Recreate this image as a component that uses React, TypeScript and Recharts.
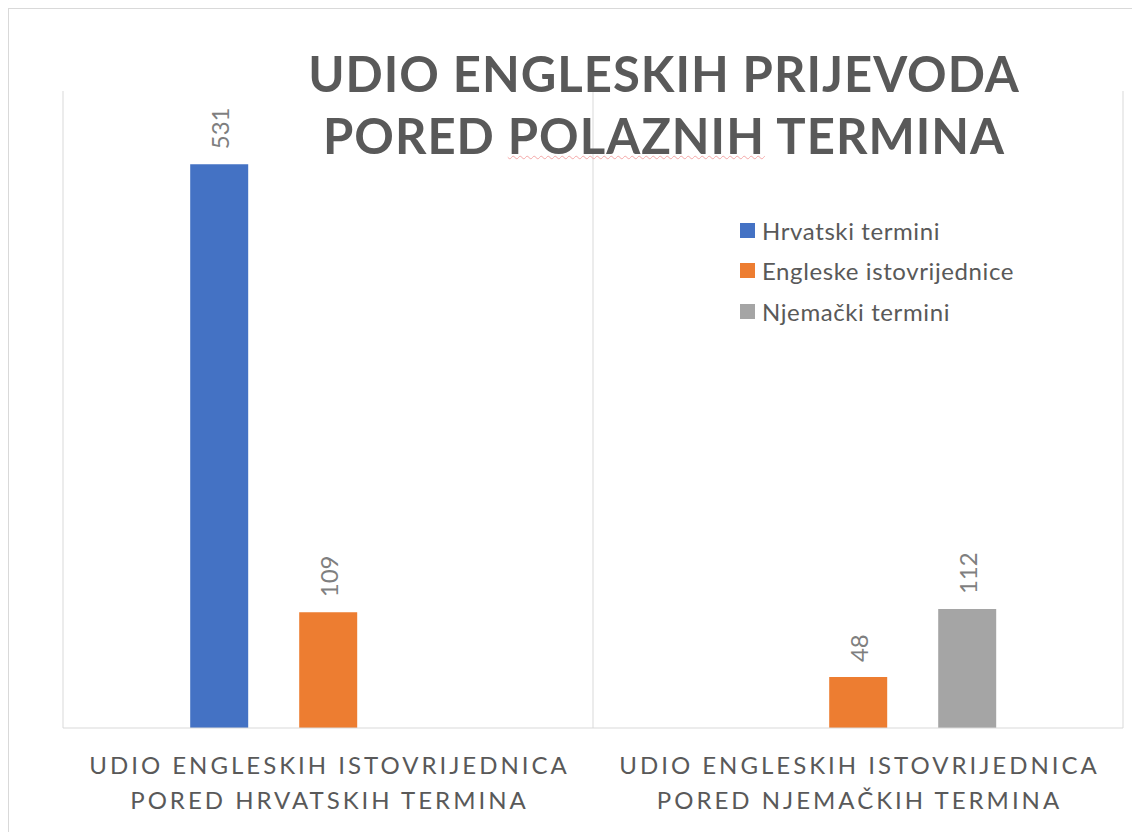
import { Bar, BarChart, CartesianGrid, LabelList, Legend, XAxis, YAxis } from 'recharts';

const categoryLines = [
  ['UDIO ENGLESKIH ISTOVRIJEDNICA', 'PORED HRVATSKIH TERMINA'],
  ['UDIO ENGLESKIH ISTOVRIJEDNICA', 'PORED NJEMAČKIH TERMINA']
];
const hrvatski = [531, null];
const engleske = [109, 48];
const njemacki = [null, 112];
const seriesNames = ['Hrvatski termini', 'Engleske istovrijednice', 'Njemački termini'];
const yTicks = [0, 600];

const data = categoryLines.map((lines, i) => ({
  name: lines.join('\n'),
  hr: hrvatski[i],
  en: engleske[i],
  de: njemacki[i]
}));

const FONT = 'Lato, "Open Sans", sans-serif';

const CategoryTick = ({ x, y, payload }: any) => {
  const lines = String(payload.value).split('\n');
  return (
    <text x={x + 1.5} y={y} textAnchor="middle" fill="#595959" fontSize={24} fontFamily={FONT} style={{ letterSpacing: 3 }}>
      {lines.map((l, i) => (
        <tspan key={i} x={x + 1.5} dy={i === 0 ? 38 : 35}>{l}</tspan>
      ))}
    </text>
  );
};

const ValueLabel = (props: any) => {
  const { x, y, width, value } = props;
  if (value == null) return null;
  const cx = x + width / 2;
  const ty = y - 15;
  return (
    <text x={cx} y={ty} transform={`rotate(-90 ${cx} ${ty})`} textAnchor="start" dominantBaseline="central"
      fill="#7f7f7f" fontSize={24} fontFamily={FONT}>
      {value}
    </text>
  );
};

const LegendBox = () => (
  <div style={{ fontFamily: FONT, fontSize: 24, color: '#595959', letterSpacing: 0.6 }}>
    {seriesNames.map((n, i) => (
      <div key={i} style={{ display: 'flex', alignItems: 'center', height: 40.5, whiteSpace: 'nowrap' }}>
        <span style={{ width: 15, height: 15, background: colors[i], marginRight: 7, display: 'inline-block' }} />
        <span>{n}</span>
      </div>
    ))}
  </div>
);

const colors = ['#4472C4', '#ED7D31', '#A5A5A5'];

const titleStyle: any = {
  position: 'absolute', left: 255, width: 800, textAlign: 'center', fontFamily: FONT, fontWeight: 700,
  fontSize: 49, lineHeight: '49px', color: '#595959', letterSpacing: 1, whiteSpace: 'nowrap'
};

export default function App() {
  return (
    <div style={{ position: 'relative', width: 1132, height: 824, borderTop: '1px solid #d9d9d9', borderLeft: '1px solid #d9d9d9', boxSizing: 'border-box', overflow: 'hidden', background: '#fff' }}>
      <BarChart width={1131} height={823} data={data} margin={{ top: 82, right: 17, bottom: 4, left: 54 }}
        barCategoryGap="24%" barGap={51}>
        <CartesianGrid horizontal={false} stroke="#d9d9d9"
          verticalCoordinatesGenerator={({ offset }: any) => [offset.left, offset.left + offset.width / 2, offset.left + offset.width]} />
        <XAxis dataKey="name" height={100} interval={0} tickLine={false} axisLine={{ stroke: '#d9d9d9' }} tick={<CategoryTick />} />
        <YAxis hide domain={[yTicks[0], yTicks[1]]} ticks={yTicks} />
        <Legend layout="vertical" align="center" verticalAlign="middle" content={<LegendBox />}
          wrapperStyle={{ left: 731, top: 201, width: 360, height: 130 }} />
        <Bar dataKey="hr" name={seriesNames[0]} fill={colors[0]} isAnimationActive={false}>
          <LabelList dataKey="hr" content={<ValueLabel />} />
        </Bar>
        <Bar dataKey="en" name={seriesNames[1]} fill={colors[1]} isAnimationActive={false}>
          <LabelList dataKey="en" content={<ValueLabel />} />
        </Bar>
        <Bar dataKey="de" name={seriesNames[2]} fill={colors[2]} isAnimationActive={false}>
          <LabelList dataKey="de" content={<ValueLabel />} />
        </Bar>
      </BarChart>
      <div style={{ ...titleStyle, top: 40 }}>UDIO ENGLESKIH PRIJEVODA</div>
      <div style={{ ...titleStyle, top: 102 }}>
        PORED{' '}
        <span style={{ textDecorationLine: 'underline', textDecorationStyle: 'wavy', textDecorationColor: '#f4a7a7', textDecorationThickness: '1px', textUnderlineOffset: '1px' }}>POLAZNIH</span>
        {' '}TERMINA
      </div>
    </div>
  );
}
